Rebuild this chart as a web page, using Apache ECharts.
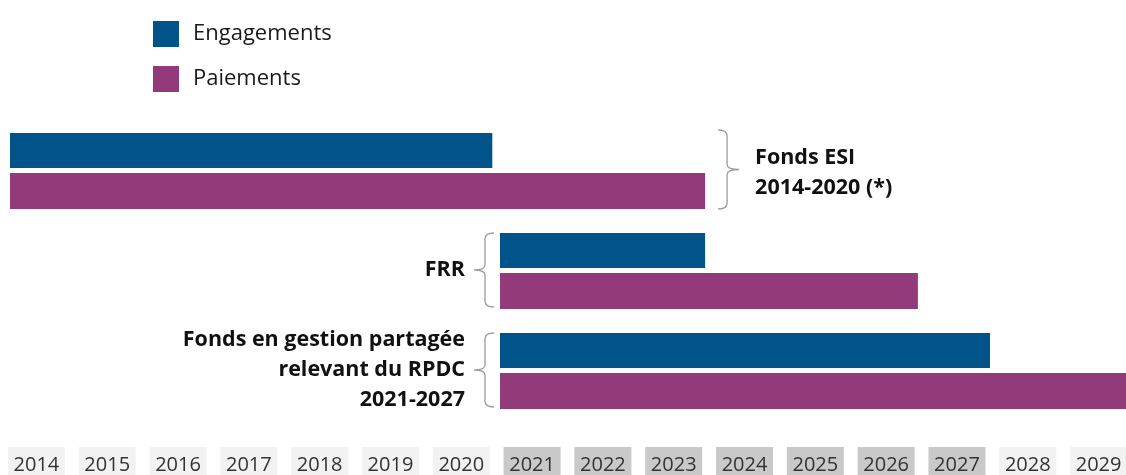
<!DOCTYPE html>
<html>
<head>
<meta charset="utf-8">
<script src="https://cdn.jsdelivr.net/npm/echarts@6.0.0/dist/echarts.min.js"></script>
<style>
html,body{margin:0;padding:0;background:#ffffff;}
#chart{width:1126px;height:475px;}
</style>
</head>
<body>
<div id="chart"></div>
<script>
// ---- data ----
const groups = ['Fonds ESI\n2014-2020 (*)', 'FRR', 'Fonds en gestion partagée\nrelevant du RPDC\n2021-2027'];
const engagementStart = [2014, 2021, 2021];
const engagementEnd = [2020.89, 2023.93, 2028.0];
const paiementStart = [2014, 2021, 2021];
const paiementEnd = [2023.93, 2026.97, 2030];
const bracketSide = ['right', 'left', 'left'];
const years = ['2014','2015','2016','2017','2018','2019','2020','2021','2022','2023','2024','2025','2026','2027','2028','2029'];
const periodYears = ['2021','2022','2023','2024','2025','2026','2027'];
const seriesNames = ['Engagements', 'Paiements'];

// ---- style ----
const COL_ENG = '#01548a';
const COL_PAY = '#933a7b';
const FONT = '"Open Sans", "Noto Sans", sans-serif';
const ENG_TOP = -38, ENG_BOT = -3, PAY_TOP = 2, PAY_BOT = 38;

function barRender(top, bot, color) {
  return function (params, api) {
    const i = api.value(1);
    const p0 = api.coord([api.value(0), i]);
    const p1 = api.coord([api.value(2), i]);
    const c = p0[1];
    return {
      type: 'rect',
      shape: { x: p0[0], y: c + top, width: p1[0] - p0[0], height: bot - top },
      style: { fill: color }
    };
  };
}

function annotRender(params, api) {
  const i = api.value(1);
  const s = api.coord([api.value(0), i]);
  const e = api.coord([api.value(2), i]);
  const c = s[1];
  const side = bracketSide[params.dataIndex];
  let top, bot, path, textX, align, textY;
  if (side === 'right') {
    top = c + ENG_TOP - 3; bot = c + PAY_BOT;
    const mid = (top + bot) / 2;
    const x = e[0] + 22;
    path = `M${x-9} ${top} Q${x} ${top} ${x} ${top+6} L${x} ${mid-5} Q${x} ${mid} ${x+12} ${mid} Q${x} ${mid} ${x} ${mid+5} L${x} ${bot-6} Q${x} ${bot} ${x-9} ${bot}`;
    textX = x + 28; align = 'left'; textY = mid + 3;
  } else {
    top = c + ENG_TOP; bot = c + PAY_BOT - 2;
    const mid = (top + bot) / 2;
    const x = s[0] - 15;
    path = `M${x+9} ${top} Q${x} ${top} ${x} ${top+6} L${x} ${mid-5} Q${x} ${mid} ${x-11} ${mid} Q${x} ${mid} ${x} ${mid+5} L${x} ${bot-6} Q${x} ${bot} ${x+9} ${bot}`;
    textX = x - 20; align = 'right'; textY = mid;
  }
  return {
    type: 'group',
    children: [
      { type: 'path', shape: { pathData: path }, style: { fill: 'none', stroke: '#9c9c9c', lineWidth: 1.3 } },
      { type: 'text', x: textX, y: textY,
        style: { text: groups[params.dataIndex], fill: '#111111', font: `bold 21.5px ${FONT}`,
                 align: align, verticalAlign: 'middle', lineHeight: 30 } }
    ]
  };
}

const engData = groups.map((g, i) => [engagementStart[i], i, engagementEnd[i]]);
const payData = groups.map((g, i) => [paiementStart[i], i, paiementEnd[i]]);
const annData = groups.map((g, i) => [Math.min(engagementStart[i], paiementStart[i]), i, Math.max(engagementEnd[i], paiementEnd[i])]);

const boxStyle = { width: 57, height: 36, lineHeight: 36, align: 'center', fontSize: 20, color: '#333333', fontFamily: FONT };

const chart = echarts.init(document.getElementById('chart'), null, { renderer: 'canvas' });
chart.setOption({
  animation: false,
  backgroundColor: '#ffffff',
  legend: {
    data: seriesNames, orient: 'vertical', left: 153, top: 21, padding: 0,
    itemWidth: 26, itemHeight: 26, itemGap: 19, icon: 'rect', selectedMode: false,
    textStyle: { fontFamily: FONT, fontSize: 22, color: '#1a1a1a', padding: [0, 0, 0, 9] }
  },
  grid: [
    { left: 10, width: 1120, top: 121, height: 300, outerBoundsMode: 'none', containLabel: false },
    { left: 1, width: 1133, top: 440, height: 1, outerBoundsMode: 'none', containLabel: false }
  ],
  xAxis: [
    { type: 'value', gridIndex: 0, min: 2014, max: 2030, show: false },
    { type: 'category', gridIndex: 1, data: years, boundaryGap: true,
      axisLine: { show: false }, axisTick: { show: false }, splitLine: { show: false },
      axisLabel: {
        interval: 0, margin: 6, hideOverlap: false,
        formatter: v => periodYears.includes(v) ? `{d|${v}}` : `{l|${v}}`,
        rich: {
          l: Object.assign({ backgroundColor: '#f2f2f2' }, boxStyle),
          d: Object.assign({ backgroundColor: '#c9c9c9' }, boxStyle)
        }
      }
    }
  ],
  yAxis: [
    { type: 'category', gridIndex: 0, data: groups, inverse: true, show: false },
    { type: 'value', gridIndex: 1, show: false }
  ],
  series: [
    { name: seriesNames[0], type: 'custom', xAxisIndex: 0, yAxisIndex: 0, itemStyle: { color: COL_ENG },
      encode: { x: [0, 2], y: 1 }, data: engData, renderItem: barRender(ENG_TOP, ENG_BOT, COL_ENG) },
    { name: seriesNames[1], type: 'custom', xAxisIndex: 0, yAxisIndex: 0, itemStyle: { color: COL_PAY },
      encode: { x: [0, 2], y: 1 }, data: payData, renderItem: barRender(PAY_TOP, PAY_BOT, COL_PAY) },
    { name: 'annotations', type: 'custom', xAxisIndex: 0, yAxisIndex: 0, silent: true,
      encode: { x: [0, 2], y: 1 }, data: annData, renderItem: annotRender }
  ]
});
</script>
</body>
</html>
